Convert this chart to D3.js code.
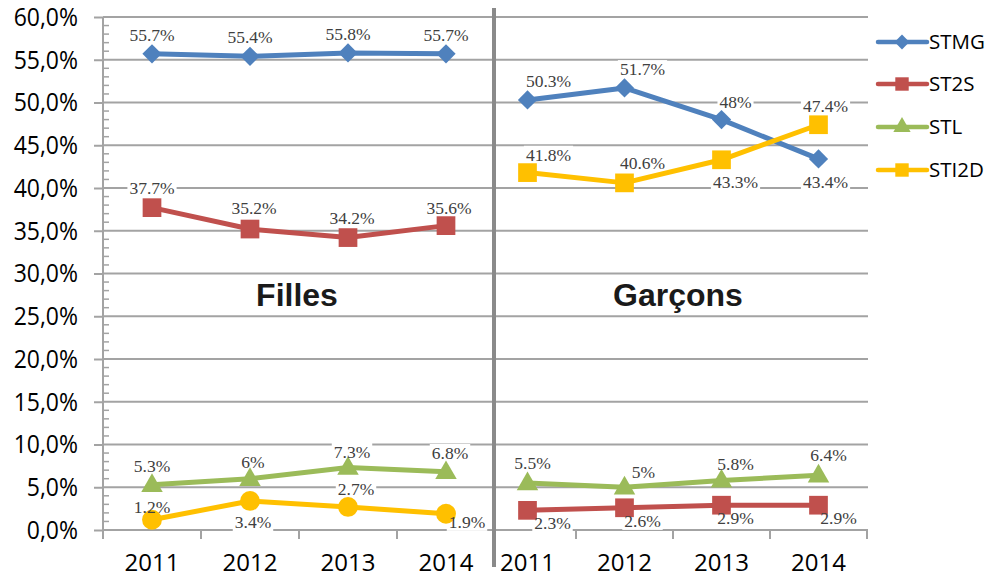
<!DOCTYPE html>
<html>
<head>
<meta charset="utf-8">
<script src="https://cdn.jsdelivr.net/npm/d3@7"></script>
<style>
  html, body { margin: 0; padding: 0; background: #fff; }
  svg { display: block; }
</style>
</head>
<body>
<svg id="chart" width="988" height="578"></svg>
<script>
// ---------- DATA ----------
const years = ["2011", "2012", "2013", "2014"];
const seriesNames = ["STMG", "ST2S", "STL", "STI2D"];
const panelTitles = ["Filles", "Garçons"];

const fillesSTMG  = [55.7, 55.4, 55.8, 55.7];
const fillesST2S  = [37.7, 35.2, 34.2, 35.6];
const fillesSTL   = [5.3, 6.0, 7.3, 6.8];
const fillesSTI2D = [1.2, 3.4, 2.7, 1.9];

const garconsSTMG  = [50.3, 51.7, 48.0, 43.4];
const garconsST2S  = [2.3, 2.6, 2.9, 2.9];
const garconsSTL   = [5.5, 5.0, 5.8, 6.4];
const garconsSTI2D = [41.8, 40.6, 43.3, 47.4];

const yTickValues = [0, 5, 10, 15, 20, 25, 30, 35, 40, 45, 50, 55, 60];

// ---------- STYLE ----------
const colors = { STMG: "#4f81bd", ST2S: "#c0504d", STL: "#9bbb59", STI2D: "#ffc000" };
const gridColor = "#a3a3a3";
const labelColor = "#404040";

// label offsets (dx, dy) relative to the point, in px
const labelOffsets = {
  "Filles": {
    STMG:  [[0,-19],[0,-19],[0,-19],[0,-19]],
    ST2S:  [[0,-20],[4,-21],[4,-20],[3,-18]],
    STL:   [[0,-19],[3,-17],[4,-16],[4,-19]],
    STI2D: [[0,-13],[3,21],[8,-18],[21,8]]
  },
  "Garçons": {
    STMG:  [[21,-19],[18,-19],[14,-18],[7,23]],
    ST2S:  [[25,13],[18,13],[14,13],[20,13]],
    STL:   [[5,-20],[19,-15],[14,-17],[10,-20]],
    STI2D: [[21,-18],[18,-20],[14,22],[7,-19]]
  }
};
const markerShapes = {
  "Filles":  { STMG: "diamond", ST2S: "square", STL: "triangle", STI2D: "circle" },
  "Garçons": { STMG: "diamond", ST2S: "square", STL: "triangle", STI2D: "square" }
};

const panels = [
  { title: panelTitles[0], range: [103, 495], titleX: 297, values: { STMG: fillesSTMG, ST2S: fillesST2S, STL: fillesSTL, STI2D: fillesSTI2D } },
  { title: panelTitles[1], range: [479, 867], titleX: 678, values: { STMG: garconsSTMG, ST2S: garconsST2S, STL: garconsSTL, STI2D: garconsSTI2D } }
];

// ---------- DRAW ----------
const svg = d3.select("#chart");
const y = d3.scaleLinear().domain([0, 60]).range([530, 17]);
const plotLeft = 103, plotRight = 868;
const fmtTick = v => v.toFixed(1).replace(".", ",") + "%";
const fmtLabel = v => d3.format("")(v) + "%";

function markerPath(shape, size) {
  const types = { diamond: d3.symbolSquare, square: d3.symbolSquare, triangle: d3.symbolTriangle, circle: d3.symbolCircle };
  return d3.symbol().type(types[shape]).size(size)();
}
const markerRotate = shape => shape === "diamond" ? " rotate(45)" : "";

// gridlines
const grid = svg.append("g");
grid.selectAll("line").data(yTickValues).join("line")
  .attr("x1", plotLeft).attr("x2", plotRight)
  .attr("y1", d => y(d)).attr("y2", d => y(d))
  .attr("stroke", gridColor).attr("stroke-width", 2);

// y axis (major ticks outside, minor ticks inside)
const yAxis = d3.axisLeft(y).tickValues(yTickValues).tickFormat(fmtTick).tickSize(9).tickPadding(16);
const yg = svg.append("g").attr("transform", `translate(${plotLeft},0)`).call(yAxis);
yg.select(".domain").attr("stroke", gridColor).attr("stroke-width", 2).attr("d", `M0,${y(60)}V538`);
yg.selectAll(".tick line").attr("stroke", gridColor).attr("stroke-width", 2);
yg.selectAll(".tick text")
  .attr("font-family", "'Open Sans', sans-serif").attr("font-size", 23).attr("fill", "#000")
  .attr("dy", "0.34em")
  .attr("transform", "scale(1,1.08)");
const minorTicks = d3.range(0, 61).filter(v => v % 5 !== 0);
svg.append("g").selectAll("line").data(minorTicks).join("line")
  .attr("x1", plotLeft).attr("x2", plotLeft + 6)
  .attr("y1", d => y(d)).attr("y2", d => y(d))
  .attr("stroke", gridColor).attr("stroke-width", 1.5);

const labelLayer = [];

panels.forEach((p, pi) => {
  const x = d3.scaleBand().domain(years).range(p.range);
  const xAxis = d3.axisBottom(x).tickSize(0).tickPadding(24);
  const xg = svg.append("g").attr("transform", "translate(0,530)").call(xAxis);
  xg.select(".domain").remove();
  xg.selectAll(".tick text")
    .attr("font-family", "'Open Sans', sans-serif").attr("font-size", 24).attr("fill", "#000");
  const boundaries = years.map(yr => x(yr) + x.bandwidth()).concat(pi === 0 ? [x(years[0])] : []);
  svg.append("g").selectAll("line").data(boundaries).join("line")
    .attr("x1", d => d).attr("x2", d => d).attr("y1", 530).attr("y2", 539)
    .attr("stroke", gridColor).attr("stroke-width", 2);

  svg.append("text").attr("x", p.titleX).attr("y", 306)
    .attr("text-anchor", "middle")
    .attr("font-family", "'Liberation Sans', Arial, sans-serif")
    .attr("font-weight", "bold").attr("font-size", 32).attr("fill", "#1a1a1a")
    .text(p.title);

  p._draw = [];
  seriesNames.forEach(s => {
    const vals = p.values[s];
    const pts = years.map((yr, i) => ({ x: x(yr) + x.bandwidth() / 2, y: y(vals[i]), v: vals[i], off: labelOffsets[p.title][s][i] }));
    pts.forEach(d => labelLayer.push({ ...d, s }));
    p._draw.push({ s, pts });
  });
});

const bgLayer = svg.append("g");
const lineLayer = svg.append("g");
const textLayer = svg.append("g");

panels.forEach(p => {
  p._draw.forEach(({ s, pts }) => {
    const shape = markerShapes[p.title][s];
    lineLayer.append("path")
      .attr("d", d3.line().x(d => d.x).y(d => d.y)(pts))
      .attr("fill", "none").attr("stroke", colors[s]).attr("stroke-width", 5)
      .attr("stroke-linejoin", "round");
    const size = { diamond: 185, square: 350, triangle: 200, circle: 310 }[shape];
    lineLayer.selectAll(null).data(pts).join("path")
      .attr("transform", d => `translate(${d.x},${d.y + (shape === "triangle" ? 1 : 0)})${markerRotate(shape)}`)
      .attr("d", markerPath(shape, size))
      .attr("fill", colors[s]);
  });
});

labelLayer.forEach(d => {
  const t = textLayer.append("text")
    .attr("x", d.x + d.off[0]).attr("y", d.y + d.off[1])
    .attr("dy", "0.35em")
    .attr("text-anchor", "middle")
    .attr("font-family", "'Liberation Serif', 'Times New Roman', serif")
    .attr("font-size", 17.5).attr("fill", labelColor)
    .text(fmtLabel(d.v));
  const bb = t.node().getBBox();
  bgLayer.append("rect")
    .attr("x", bb.x - 2).attr("y", bb.y + 1).attr("width", bb.width + 4).attr("height", bb.height - 2)
    .attr("fill", "#fff");
});

// vertical divider between panels
svg.append("line").attr("x1", 494).attr("x2", 494).attr("y1", 8).attr("y2", 567)
  .attr("stroke", "#8a8a8a").attr("stroke-width", 4);

// legend
const legendY = [42, 84, 127, 170];
const legendShapes = { STMG: "diamond", ST2S: "square", STL: "triangle", STI2D: "square" };
const lg = svg.append("g");
seriesNames.forEach((s, i) => {
  const g = lg.append("g").attr("transform", `translate(0,${legendY[i]})`);
  g.append("line").attr("x1", 878).attr("x2", 927).attr("y1", 0).attr("y2", 0)
    .attr("stroke", colors[s]).attr("stroke-width", 4.5).attr("stroke-linecap", "round");
  const shape = legendShapes[s];
  g.append("path").attr("transform", `translate(902,0)${markerRotate(shape)}`)
    .attr("d", markerPath(shape, shape === "diamond" ? 110 : shape === "triangle" ? 130 : 180))
    .attr("fill", colors[s]);
  g.append("text").attr("x", 929).attr("y", 0).attr("dy", "0.35em")
    .attr("font-family", "'Open Sans', sans-serif").attr("font-size", 20.5).attr("fill", "#000")
    .text(s);
});
</script>
</body>
</html>
